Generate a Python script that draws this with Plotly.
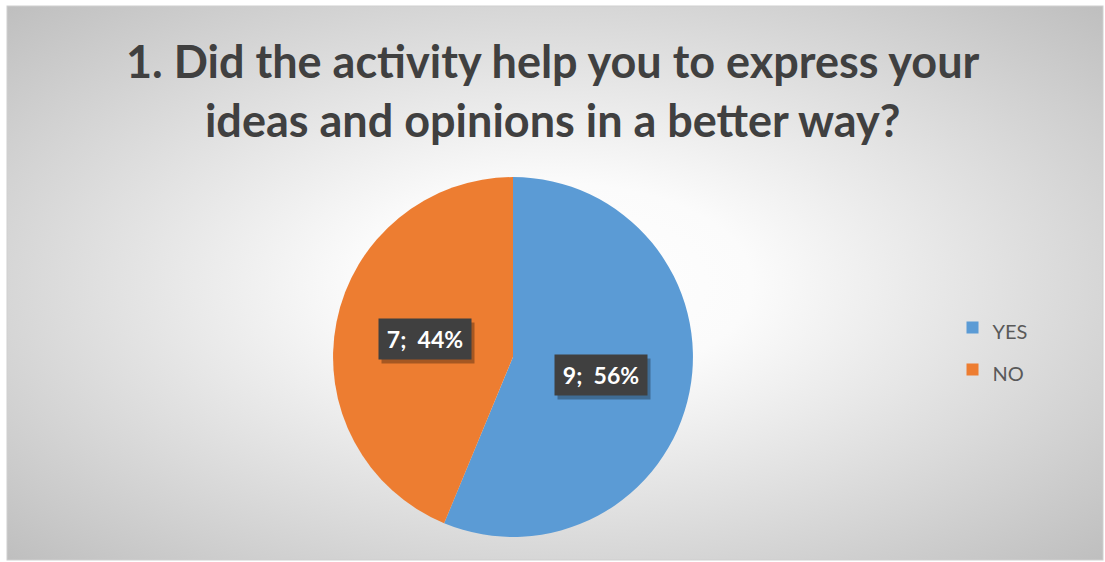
import base64
import math
import plotly.graph_objects as go

# Survey answers
labels = ["YES", "NO"]
counts = [9, 7]
colors = ["#5B9BD5", "#ED7D31"]

title_text = "1. Did the activity help you to express your<br>ideas and opinions in a better way?"

W, H = 1105, 562

# Pie placement in paper fractions
pie_x = [0.3014, 0.6271]
pie_y = [0.0445, 0.685]

# Radial grey background behind the chart
svg = f"""<svg xmlns='http://www.w3.org/2000/svg' width='{W}' height='{H}' viewBox='0 0 {W} {H}' preserveAspectRatio='none'>
<defs><radialGradient id='g' cx='0.5' cy='0.5' r='0.72' gradientUnits='objectBoundingBox'>
<stop offset='0' stop-color='#ffffff'/>
<stop offset='0.25' stop-color='#fbfbfb'/>
<stop offset='1' stop-color='#bdbdbd'/>
</radialGradient></defs>
<rect x='7' y='6' width='{W-9}' height='{H-8}' fill='url(#g)' stroke='#cfcfcf' stroke-width='1'/>
</svg>"""
bg_src = "data:image/svg+xml;base64," + base64.b64encode(svg.encode()).decode()

fig = go.Figure()
fig.add_trace(go.Pie(
    labels=[f"<span style='font-size:20px'>{l}</span>" for l in labels],
    values=counts,
    marker=dict(colors=colors, line=dict(width=0)),
    sort=False,
    direction="clockwise",
    rotation=0,
    textinfo="none",
    hoverinfo="label+value+percent",
    domain=dict(x=pie_x, y=pie_y),
))

# Data labels sitting halfway out along each slice's mid-angle
total = sum(counts)
cx = (pie_x[0] + pie_x[1]) / 2
cy = (pie_y[0] + pie_y[1]) / 2
rad_px = (pie_x[1] - pie_x[0]) * W / 2
start = 0.0
for lab, val in zip(labels, counts):
    frac = val / total
    mid = (start + frac / 2) * 2 * math.pi
    start += frac
    ax = cx + 0.5 * rad_px * math.sin(mid) / W
    ay = cy + 0.5 * rad_px * math.cos(mid) / H
    txt = f"{val};  {round(frac * 100)}%"
    box = dict(x=ax, y=ay, xref="paper", yref="paper", showarrow=False,
               width=88, height=36, borderpad=2, align="center", valign="middle")
    # drop shadow under the label box
    fig.add_annotation(**box, text=" ", xshift=3, yshift=-4, bgcolor="rgba(0,0,0,0.3)",
                       font=dict(family="Lato", size=23))
    fig.add_annotation(**box, text=txt, bgcolor="#404040",
                       font=dict(family="Lato", size=23, color="#ffffff", weight="bold"))

# Chart title
fig.add_annotation(text=title_text, x=0.5, y=1 - 32 / H, xref="paper", yref="paper",
                   xanchor="center", yanchor="top", showarrow=False, align="center",
                   font=dict(family="Lato", size=45, color="#404040", weight="bold"))

fig.update_layout(
    width=W, height=H,
    margin=dict(l=0, r=0, t=0, b=0),
    paper_bgcolor="#ffffff",
    plot_bgcolor="rgba(0,0,0,0)",
    images=[dict(source=bg_src, xref="paper", yref="paper", x=0, y=1, sizex=1, sizey=1,
                 xanchor="left", yanchor="top", sizing="stretch", layer="below")],
    showlegend=True,
    legend=dict(x=0.862, y=0.38, xanchor="left", yanchor="middle", bgcolor="rgba(0,0,0,0)",
                font=dict(family="Lato", size=30, color="#595959")),
)

fig.write_html("out.html")
